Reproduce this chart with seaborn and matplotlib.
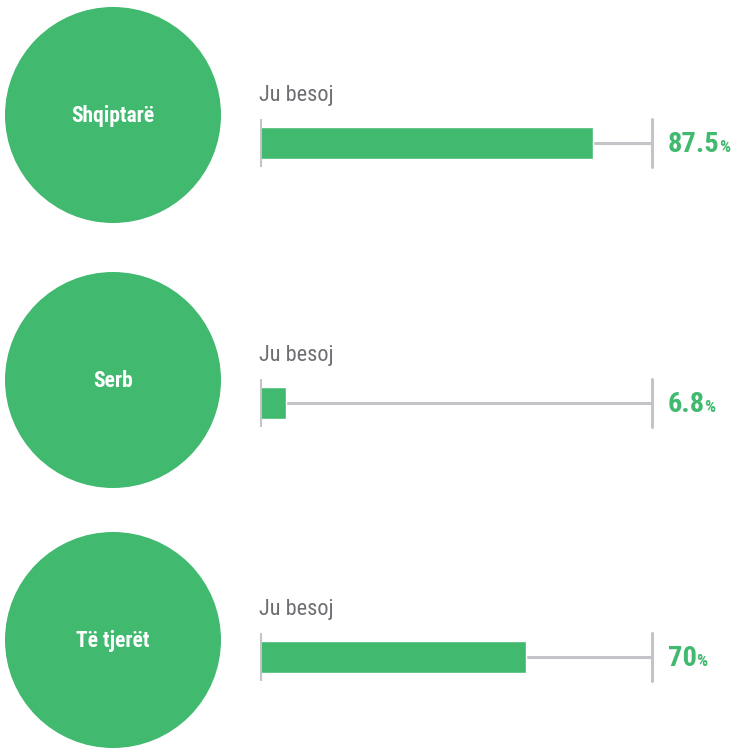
import matplotlib
matplotlib.use("Agg")
import matplotlib.pyplot as plt
import seaborn as sns
import pandas as pd
from matplotlib.patches import Circle
from matplotlib import font_manager

sns.set_theme(style="white")
names = {f.name for f in font_manager.fontManager.ttflist}
cands = ['Roboto Condensed', 'Liberation Sans Narrow', 'Arial Narrow', 'Roboto']
fam = [c for c in cands if c in names] + ['DejaVu Sans']
plt.rcParams['font.family'] = fam
condensed = fam[0] in ('Roboto Condensed', 'Liberation Sans Narrow', 'Arial Narrow')

groups = ["Shqiptarë", "Serb", "Të tjerët"]
values = [87.5, 6.8, 70]
value_labels = ["87.5", "6.8", "70"]
bar_label = "Ju besoj"

GREEN = "#41b96f"
GREY_TEXT = "#6d6e71"
GREY_LINE = "#c4c4c8"

W, H = 732, 749
fig = plt.figure(figsize=(W / 100, H / 100), dpi=100)

bg = fig.add_axes([0, 0, 1, 1])
bg.set_xlim(0, W)
bg.set_ylim(H, 0)
bg.axis("off")

circle_cy = [115, 380, 640]
bar_cy = [143, 403, 657]
cx, r = 113, 108
x0, x1 = 260, 652
XMAX = 103

fs_circle = 15.5 if condensed else 13.5
fs_label = 16 if condensed else 14
fs_val = 20.5 if condensed else 18
fs_pct = 12.5 if condensed else 11

for i, (g, v, vl) in enumerate(zip(groups, values, value_labels)):
    bg.add_patch(Circle((cx, circle_cy[i]), r, color=GREEN, lw=0))
    bg.text(cx, circle_cy[i] + 1, g, color="white", fontsize=fs_circle, fontweight="bold",
            ha="center", va="center")
    bg.text(x0 - 1, bar_cy[i] - 47, bar_label, color=GREY_TEXT, fontsize=fs_label,
            ha="left", va="center")

    top = bar_cy[i] - 24
    ax = fig.add_axes([x0 / W, 1 - (top + 48) / H, (x1 - x0) / W, 48 / H])
    df = pd.DataFrame({"grp": [g], "val": [v]})
    ax.axhline(0, color=GREY_LINE, lw=2.2, zorder=1)
    sns.barplot(data=df, x="val", y="grp", orient="h", color=GREEN,
                width=0.667, saturation=1, ax=ax, zorder=2)
    ax.set_xlim(0, XMAX)
    ax.set_ylim(0.5, -0.5)
    ax.axvline(0, color=GREY_LINE, lw=2.2, zorder=3)
    ax.axvline(XMAX, color=GREY_LINE, lw=2.2, zorder=3, clip_on=False)
    ax.axis("off")

    base = bar_cy[i] + 8.5
    t = bg.text(668, base, vl, color=GREEN, fontsize=fs_val, fontweight="bold",
                ha="left", va="baseline")
    fig.canvas.draw()
    bb = t.get_window_extent()
    xr = bb.x1 - 1
    bg.text(xr, base, "%", color=GREEN, fontsize=fs_pct, fontweight="bold",
            ha="left", va="baseline")

fig.savefig("out.png", dpi=100)
